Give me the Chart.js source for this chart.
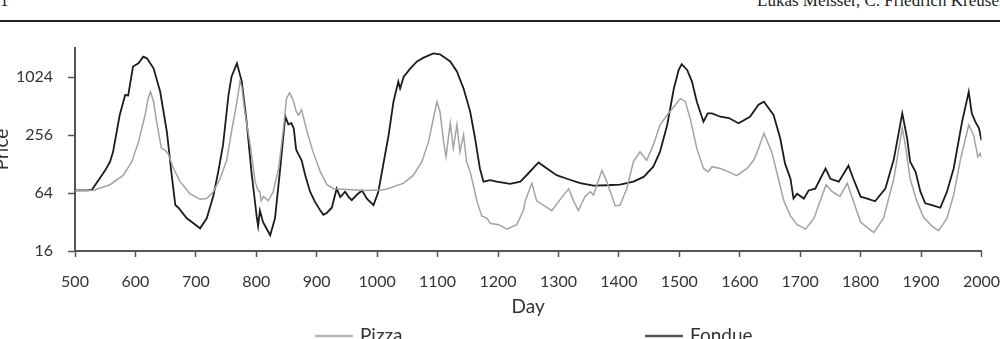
<!DOCTYPE html>
<html>
<head>
<meta charset="utf-8">
<script src="https://cdn.jsdelivr.net/npm/chart.js@4"></script>
<style>
  html, body { margin: 0; padding: 0; width: 1000px; height: 339px; overflow: hidden; background: #fff; }
  #hdrL { position: absolute; left: 0px; top: -8px; font: 17px/1 "Liberation Serif", serif; color: #222; white-space: nowrap; }
  #hdrR { position: absolute; left: 757px; top: -8px; font: 17px/1 "Liberation Serif", serif; color: #222; white-space: nowrap; }
  #rule { position: absolute; left: 0; top: 20px; width: 1000px; height: 2px; background: #222; }
  #wrap { position: absolute; left: -10px; top: 0; width: 1010px; height: 339px; }
</style>
</head>
<body>
<div id="hdrL">1</div>
<div id="hdrR">Lukas Meisser, C. Friedrich Kreuser</div>
<div id="rule"></div>
<div id="wrap"><canvas id="c" width="1010" height="339"></canvas></div>
<script>
// ---- data ----
const seriesNames = ["Pizza", "Fondue"];
const xTicks = [500, 600, 700, 800, 900, 1000, 1100, 1200, 1300, 1400, 1500, 1600, 1700, 1800, 1900, 2000];
const yTicks = [16, 64, 256, 1024];

const pizzaDays = [500,530,558,580,594,605,616,621,625,630,635,643,649,654,663,674,690,707,718,729,740,751,759,768,773,776,781,790,798,803,806,808,812,820,828,837,845,850,855,861,866,870,875,884,894,906,917,928,944,980,1010,1021,1044,1060,1074,1085,1093,1099,1104,1110,1114,1121,1126,1132,1137,1143,1148,1154,1159,1165,1173,1182,1187,1201,1215,1231,1242,1245,1256,1264,1275,1289,1303,1317,1325,1333,1344,1353,1358,1372,1380,1394,1402,1413,1424,1435,1446,1457,1468,1480,1491,1502,1510,1518,1529,1540,1548,1554,1568,1582,1595,1612,1623,1629,1640,1653,1664,1673,1684,1695,1709,1723,1733,1743,1753,1766,1778,1788,1800,1811,1822,1838,1855,1869,1874,1882,1893,1904,1918,1929,1943,1954,1965,1979,1987,1994,1998,2000];
const pizzaPrices = [68,68,78,98,135,217,413,614,719,567,352,186,178,165,115,84,63,55,56,66,90,140,277,567,917,810,446,202,84,68,66,53,59,53,66,115,301,614,700,589,450,413,467,277,171,106,78,71,70,68,69,72,81,98,135,217,380,567,446,217,152,339,186,325,171,256,135,106,78,53,37,35,31,30,27,30,42,53,81,53,48,42,55,71,53,42,59,66,61,110,84,47,48,71,135,171,140,202,325,413,502,614,567,380,186,115,106,120,115,106,97,115,140,171,267,171,90,53,37,30,27,35,53,78,66,59,81,53,32,28,25,35,90,301,202,90,53,36,29,26,35,61,140,325,256,152,165,150];

const fondueDays = [500,520,528,541,550,558,563,574,583,588,596,605,613,619,630,641,652,660,666,671,685,696,707,718,729,737,745,754,759,768,776,784,792,801,803,806,811,823,831,839,848,853,858,862,866,870,875,881,889,897,906,911,917,925,933,939,947,953,958,966,975,983,994,1002,1010,1019,1027,1035,1038,1044,1055,1066,1077,1093,1104,1121,1132,1143,1154,1162,1170,1176,1187,1198,1220,1237,1250,1267,1281,1297,1314,1336,1358,1380,1402,1424,1441,1457,1468,1480,1491,1499,1504,1513,1521,1529,1540,1547,1554,1568,1582,1598,1617,1631,1640,1656,1667,1675,1684,1689,1695,1706,1714,1725,1742,1750,1764,1780,1788,1800,1811,1824,1841,1855,1869,1877,1882,1891,1899,1907,1918,1932,1943,1954,1968,1979,1984,1990,1996,2000];
const fonduePrices = [68,68,69,91,110,135,171,413,666,660,1313,1420,1663,1600,1260,719,277,98,48,45,35,31,27.5,35,60,106,202,666,1031,1420,917,352,106,35,29,42,32,23.3,35,106,400,330,340,300,180,160,140,98,66,52,42,38,40,45,71,58,66,58,54,61,68,56,48,66,125,256,567,917,777,1031,1260,1487,1626,1800,1760,1487,1170,777,446,237,115,84,87,84,79.5,84,102,133,115,98,90,81,76.5,77,78,84,94,120,171,325,777,1213,1390,1213,917,567,352,430,430,396,384,339,396,528,567,413,237,129,90,56,63,56,68,71,115,90,84,123,90,58.6,56,52.5,71,143,430,237,135,106,66,50,48,45,66,115,352,719,430,350,300,225];

const pts = (xs, ys) => xs.map((d, i) => ({ x: d, y: ys[i] }));

const legendPlugin = {
  id: 'bottomLegend',
  afterDraw(chart) {
    const ctx = chart.ctx, a = chart.chartArea;
    const starts = [240, 570];
    const y = 336;
    ctx.save();
    ctx.font = '19px Lato';
    ctx.textBaseline = 'middle';
    ctx.textAlign = 'left';
    chart.data.datasets.forEach((ds, i) => {
      const x0 = a.left + starts[i];
      ctx.strokeStyle = ds.legendColor;
      ctx.lineWidth = 2.5;
      ctx.beginPath(); ctx.moveTo(x0, y); ctx.lineTo(x0 + 38, y); ctx.stroke();
      ctx.fillStyle = '#333';
      ctx.fillText(ds.label, x0 + 45, y);
    });
    ctx.restore();
  }
};

Chart.defaults.font.family = 'Lato';
Chart.defaults.color = '#333';

new Chart(document.getElementById('c'), {
  type: 'line',
  data: {
    datasets: [
      { label: seriesNames[0], data: pts(pizzaDays, pizzaPrices), borderColor: '#a3a3a3', legendColor: '#b8b8b8', borderWidth: 1.5, pointRadius: 0, tension: 0, fill: false },
      { label: seriesNames[1], data: pts(fondueDays, fonduePrices), borderColor: '#1c1c1c', legendColor: '#555', borderWidth: 1.8, pointRadius: 0, tension: 0, fill: false }
    ]
  },
  options: {
    responsive: false,
    animation: false,
    devicePixelRatio: 1,
    layout: { padding: { top: 48, right: 0, bottom: 0, left: 0 } },
    plugins: { legend: { display: false }, tooltip: { enabled: false } },
    scales: {
      x: {
        type: 'linear', min: 500, max: 2000,
        afterFit: s => { s.height = 88; },
        afterBuildTicks: s => { s.ticks = xTicks.map(v => ({ value: v })); },
        ticks: { font: { size: 16, lineHeight: 3.075 }, padding: 0, maxRotation: 0, autoSkip: false, color: '#333', callback: v => String(v) },
        grid: { drawOnChartArea: false, drawTicks: true, tickLength: 6, color: '#555', tickWidth: 1.5 },
        border: { display: true, color: '#555', width: 2 },
        title: { display: true, text: 'Day', font: { size: 19 }, color: '#333', padding: { top: 0, bottom: 21 } }
      },
      y: {
        type: 'logarithmic', min: 16, max: 2048,
        afterFit: s => { s.width = 85; },
        afterBuildTicks: s => { s.ticks = yTicks.map(v => ({ value: v })); },
        ticks: { font: { size: 16 }, padding: 15, color: '#333', callback: v => String(v) },
        grid: { drawOnChartArea: false, drawTicks: true, tickLength: 7, color: '#555', tickWidth: 1.5 },
        border: { display: true, color: '#555', width: 2 },
        title: { display: true, text: 'Price', font: { size: 19 }, color: '#333', padding: { top: 0, bottom: 0 } }
      }
    }
  },
  plugins: [legendPlugin]
});
</script>
</body>
</html>
